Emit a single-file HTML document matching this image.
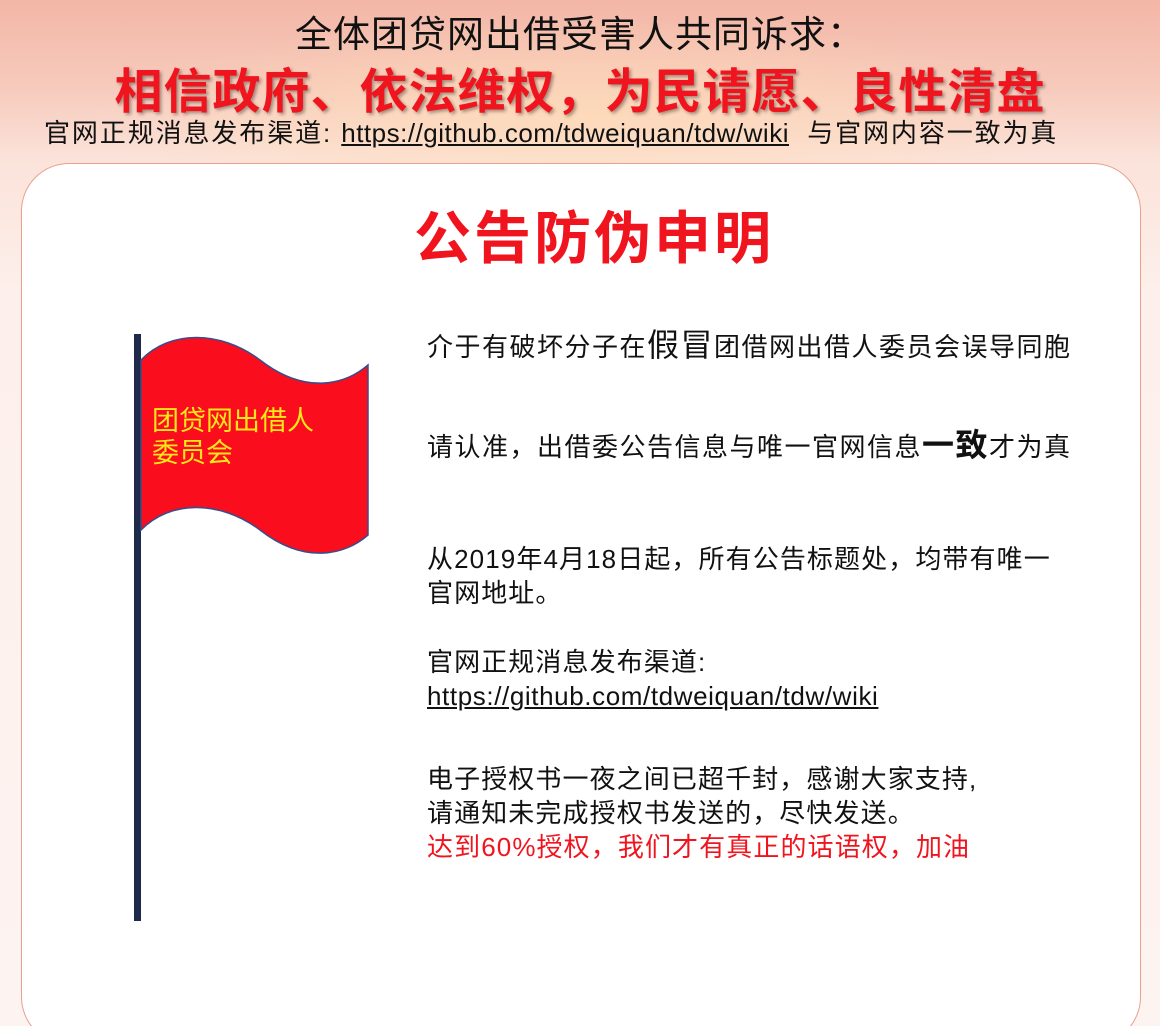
<!DOCTYPE html>
<html style="height:1026px;overflow:hidden;background:#fdf3f0"><head><meta charset="utf-8">
<style>
body{margin:0;width:1160px;height:1026px;overflow:hidden;position:relative;font-family:"Liberation Sans","Noto Sans CJK SC",sans-serif;
background:linear-gradient(180deg,#f3b6a6 0px,#f7cbbd 90px,#fbe3da 160px,#fdf0ec 300px,#fdf3f0 1026px);}
.abs{position:absolute;white-space:nowrap}
.card{position:absolute;left:21px;top:163px;width:1118px;height:880px;background:#fff;border:1.5px solid #eaa08c;border-radius:48px}
.t{font-size:26px;color:#111;left:427px;letter-spacing:1.1px}
.t a{letter-spacing:0.6px}
</style></head><body>
<div class="abs" style="left:0;top:0;width:1160px;height:165px;background:radial-gradient(ellipse at 50% 70%,rgba(255,220,180,0.7),rgba(240,150,130,0) 60%)"></div>
<div class="abs" style="left:0;width:1160px;text-align:center;top:4px;font-size:37px;letter-spacing:1px;color:#111">全体团贷网出借受害人共同诉求：</div>
<div class="abs" style="left:0;width:1160px;text-align:center;top:52px;font-size:48px;font-weight:bold;color:#f0141e;letter-spacing:1px;text-shadow:2px 2px 3px rgba(0,0,0,0.35)">相信政府、依法维权，为民请愿、良性清盘</div>
<div class="abs" style="left:44px;top:113px;font-size:26px;letter-spacing:1.9px;color:#111">官网正规消息发布渠道: <a style="color:#111;text-decoration:underline;letter-spacing:0.5px">https://github.com/tdweiquan/tdw/wiki</a> &nbsp;与官网内容一致为真</div>
<div class="card"></div>
<div class="abs" style="left:0;width:1188px;text-align:center;top:193px;font-size:57px;font-weight:bold;color:#f0141e;letter-spacing:3px">公告防伪申明</div>
<svg class="abs" style="left:130px;top:330px" width="245" height="600">
<rect x="4" y="4" width="7" height="587" fill="#1d2a4a"/>
<path d="M11 30 C 40 0,90 0,130 30 C 175 65,215 55,238 35 L238 205 C 215 225,175 235,130 200 C 90 170,40 170,11 200 Z" fill="#fa0d1c" stroke="#3b4c8a" stroke-width="1.5"/>
</svg>
<div class="abs" style="left:152px;top:405px;font-size:27px;line-height:32px;color:#ffe81a">团贷网出借人<br>委员会</div>
<div class="abs t" style="top:320px;letter-spacing:1.5px">介于有破坏分子在<span style="font-size:32px">假冒</span>团借网出借人委员会误导同胞</div>
<div class="abs t" style="top:420px;letter-spacing:1.5px">请认准，出借委公告信息与唯一官网信息<span style="font-size:32px;font-weight:bold">一致</span>才为真</div>
<div class="abs t" style="top:542px;line-height:34px">从2019年4月18日起，所有公告标题处，均带有唯一<br>官网地址。</div>
<div class="abs t" style="top:645px;line-height:34px">官网正规消息发布渠道:<br><a style="color:#111;text-decoration:underline">https://github.com/tdweiquan/tdw/wiki</a></div>
<div class="abs t" style="top:762px;line-height:34px">电子授权书一夜之间已超千封，感谢大家支持,<br>请通知未完成授权书发送的，尽快发送。<br><span style="color:#f0141e">达到60%授权，我们才有真正的话语权，加油</span></div>
</body></html>
